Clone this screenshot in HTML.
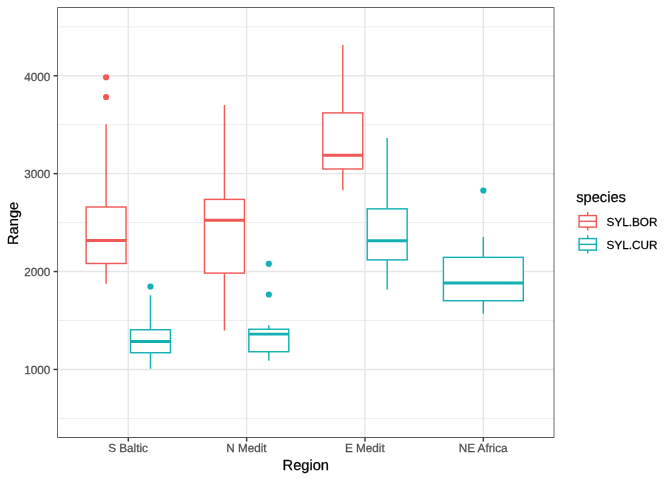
<!DOCTYPE html>
<html><head><meta charset="utf-8"><title>Range by Region</title>
<style>
html,body{margin:0;padding:0;background:#fff;}
svg{display:block;}
text{font-family:"Liberation Sans",Arial,Helvetica,sans-serif;text-rendering:geometricPrecision;}
.at{font-size:11.73px;fill:#4D4D4D;stroke:#4D4D4D;stroke-width:0.25px;}
.ti{font-size:14.67px;fill:#000;stroke:#000;stroke-width:0.25px;}
.lg{font-size:11.73px;fill:#000;stroke:#000;stroke-width:0.25px;}
</style></head><body>
<svg width="672" height="480" viewBox="0 0 672 480">
<rect x="0" y="0" width="672" height="480" fill="#fff"/>
<defs><clipPath id="pc"><rect x="57.27" y="7.3" width="497.08000000000004" height="430.59999999999997"/></clipPath></defs>
<g clip-path="url(#pc)">
<line x1="57.27" x2="554.35" y1="418.40" y2="418.40" stroke="#E6E6E6" stroke-width="0.71"/>
<line x1="57.27" x2="554.35" y1="320.50" y2="320.50" stroke="#E6E6E6" stroke-width="0.71"/>
<line x1="57.27" x2="554.35" y1="222.60" y2="222.60" stroke="#E6E6E6" stroke-width="0.71"/>
<line x1="57.27" x2="554.35" y1="124.70" y2="124.70" stroke="#E6E6E6" stroke-width="0.71"/>
<line x1="57.27" x2="554.35" y1="26.80" y2="26.80" stroke="#E6E6E6" stroke-width="0.71"/>
<line x1="57.27" x2="554.35" y1="369.45" y2="369.45" stroke="#E6E6E6" stroke-width="1.42"/>
<line x1="57.27" x2="554.35" y1="271.55" y2="271.55" stroke="#E6E6E6" stroke-width="1.42"/>
<line x1="57.27" x2="554.35" y1="173.65" y2="173.65" stroke="#E6E6E6" stroke-width="1.42"/>
<line x1="57.27" x2="554.35" y1="75.75" y2="75.75" stroke="#E6E6E6" stroke-width="1.42"/>
<line x1="128.28" x2="128.28" y1="7.3" y2="437.9" stroke="#E6E6E6" stroke-width="1.42"/>
<line x1="246.63" x2="246.63" y1="7.3" y2="437.9" stroke="#E6E6E6" stroke-width="1.42"/>
<line x1="364.99" x2="364.99" y1="7.3" y2="437.9" stroke="#E6E6E6" stroke-width="1.42"/>
<line x1="483.34" x2="483.34" y1="7.3" y2="437.9" stroke="#E6E6E6" stroke-width="1.42"/>
<g stroke="#F05955" fill="none" stroke-width="1.42">
<circle cx="106.09" cy="77.25" r="3.1" fill="#F05955" stroke="none"/>
<circle cx="106.09" cy="97.00" r="3.1" fill="#F05955" stroke="none"/>
<line x1="106.09" x2="106.09" y1="124.25" y2="207.00"/>
<line x1="106.09" x2="106.09" y1="263.50" y2="283.75"/>
<rect x="86.12" y="207.00" width="39.94" height="56.50" fill="#fff"/>
<line x1="86.12" x2="126.06" y1="240.50" y2="240.50" stroke-width="2.84"/>
</g>
<g stroke="#12B0B5" fill="none" stroke-width="1.42">
<circle cx="150.47" cy="286.50" r="3.1" fill="#12B0B5" stroke="none"/>
<line x1="150.47" x2="150.47" y1="295.25" y2="329.75"/>
<line x1="150.47" x2="150.47" y1="352.75" y2="368.75"/>
<rect x="130.50" y="329.75" width="39.94" height="23.00" fill="#fff"/>
<line x1="130.50" x2="170.44" y1="341.50" y2="341.50" stroke-width="2.84"/>
</g>
<g stroke="#F05955" fill="none" stroke-width="1.42">
<line x1="224.44" x2="224.44" y1="105.00" y2="199.40"/>
<line x1="224.44" x2="224.44" y1="273.10" y2="330.60"/>
<rect x="204.47" y="199.40" width="39.94" height="73.70" fill="#fff"/>
<line x1="204.47" x2="244.41" y1="220.25" y2="220.25" stroke-width="2.84"/>
</g>
<g stroke="#12B0B5" fill="none" stroke-width="1.42">
<circle cx="268.82" cy="263.85" r="3.1" fill="#12B0B5" stroke="none"/>
<circle cx="268.82" cy="294.50" r="3.1" fill="#12B0B5" stroke="none"/>
<line x1="268.82" x2="268.82" y1="325.25" y2="329.25"/>
<line x1="268.82" x2="268.82" y1="351.75" y2="360.70"/>
<rect x="248.85" y="329.25" width="39.94" height="22.50" fill="#fff"/>
<line x1="248.85" x2="288.80" y1="334.20" y2="334.20" stroke-width="2.84"/>
</g>
<g stroke="#F05955" fill="none" stroke-width="1.42">
<line x1="342.80" x2="342.80" y1="45.00" y2="112.90"/>
<line x1="342.80" x2="342.80" y1="169.00" y2="190.25"/>
<rect x="322.82" y="112.90" width="39.94" height="56.10" fill="#fff"/>
<line x1="322.82" x2="362.77" y1="155.25" y2="155.25" stroke-width="2.84"/>
</g>
<g stroke="#12B0B5" fill="none" stroke-width="1.42">
<line x1="387.18" x2="387.18" y1="138.00" y2="208.85"/>
<line x1="387.18" x2="387.18" y1="259.90" y2="289.50"/>
<rect x="367.21" y="208.85" width="39.94" height="51.05" fill="#fff"/>
<line x1="367.21" x2="407.15" y1="240.75" y2="240.75" stroke-width="2.84"/>
</g>
<g stroke="#12B0B5" fill="none" stroke-width="1.42">
<circle cx="483.34" cy="190.50" r="3.1" fill="#12B0B5" stroke="none"/>
<line x1="483.34" x2="483.34" y1="237.00" y2="257.35"/>
<line x1="483.34" x2="483.34" y1="300.75" y2="313.75"/>
<rect x="443.39" y="257.35" width="79.89" height="43.40" fill="#fff"/>
<line x1="443.39" x2="523.28" y1="283.00" y2="283.00" stroke-width="2.84"/>
</g>
<rect x="57.27" y="7.3" width="497.08000000000004" height="430.59999999999997" fill="none" stroke="#333333" stroke-width="1.42"/>
</g>
<line x1="53.60" x2="57.27" y1="369.45" y2="369.45" stroke="#333333" stroke-width="1.42"/>
<text class="at" x="50.37" y="374.25" text-anchor="end">1000</text>
<line x1="53.60" x2="57.27" y1="271.55" y2="271.55" stroke="#333333" stroke-width="1.42"/>
<text class="at" x="50.37" y="276.35" text-anchor="end">2000</text>
<line x1="53.60" x2="57.27" y1="173.65" y2="173.65" stroke="#333333" stroke-width="1.42"/>
<text class="at" x="50.37" y="178.45" text-anchor="end">3000</text>
<line x1="53.60" x2="57.27" y1="75.75" y2="75.75" stroke="#333333" stroke-width="1.42"/>
<text class="at" x="50.37" y="80.55" text-anchor="end">4000</text>
<line x1="128.28" x2="128.28" y1="437.90" y2="441.57" stroke="#333333" stroke-width="1.42"/>
<text class="at" x="128.08" y="452.40" text-anchor="middle">S Baltic</text>
<line x1="246.63" x2="246.63" y1="437.90" y2="441.57" stroke="#333333" stroke-width="1.42"/>
<text class="at" x="246.43" y="452.40" text-anchor="middle">N Medit</text>
<line x1="364.99" x2="364.99" y1="437.90" y2="441.57" stroke="#333333" stroke-width="1.42"/>
<text class="at" x="364.79" y="452.40" text-anchor="middle">E Medit</text>
<line x1="483.34" x2="483.34" y1="437.90" y2="441.57" stroke="#333333" stroke-width="1.42"/>
<text class="at" x="483.14" y="452.40" text-anchor="middle">NE Africa</text>
<text class="ti" x="305.81" y="469.7" text-anchor="middle">Region</text>
<text class="ti" transform="translate(17.8,223.40) rotate(-90)" text-anchor="middle">Range</text>
<text class="ti" x="576.2" y="201.7">species</text>
<g stroke="#F05955" fill="none" stroke-width="1.42">
<line x1="587.72" x2="587.72" y1="212.10" y2="215.56"/>
<line x1="587.72" x2="587.72" y1="227.08" y2="230.54"/>
<rect x="579.08" y="215.56" width="17.28" height="11.52"/>
<line x1="579.08" x2="596.36" y1="221.32" y2="221.32"/>
</g>
<text class="lg" x="606.6" y="225.52">SYL.BOR</text>
<g stroke="#12B0B5" fill="none" stroke-width="1.42">
<line x1="587.72" x2="587.72" y1="235.14" y2="238.60"/>
<line x1="587.72" x2="587.72" y1="250.12" y2="253.58"/>
<rect x="579.08" y="238.60" width="17.28" height="11.52"/>
<line x1="579.08" x2="596.36" y1="244.36" y2="244.36"/>
</g>
<text class="lg" x="606.6" y="248.56">SYL.CUR</text>
</svg></body></html>
